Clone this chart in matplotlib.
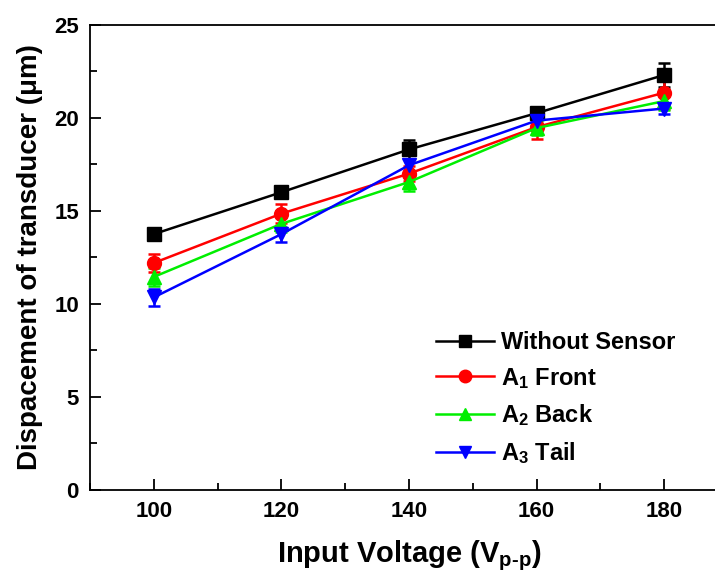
import matplotlib
matplotlib.use("Agg")
import matplotlib.pyplot as plt
from matplotlib.ticker import MultipleLocator
from matplotlib.lines import Line2D

plt.rcParams['font.family'] = ['Liberation Sans', 'DejaVu Sans']
plt.rcParams['font.weight'] = 'bold'
plt.rcParams['mathtext.fontset'] = 'custom'
plt.rcParams['mathtext.rm'] = 'Liberation Sans:bold'
plt.rcParams['mathtext.it'] = 'Liberation Sans:bold'
plt.rcParams['mathtext.bf'] = 'Liberation Sans:bold'

voltage = [100, 120, 140, 160, 180]
without_sensor = [13.75, 16.0, 18.3, 20.25, 22.3]
without_err = [0.3, 0.25, 0.5, 0.2, 0.65]
a1_front = [12.2, 14.85, 17.0, 19.5, 21.35]
a1_err = [0.5, 0.5, 0.4, 0.65, 0.85]
a2_back = [11.45, 14.3, 16.55, 19.45, 20.9]
a2_err = [0.5, 0.45, 0.5, 0.4, 0.5]
a3_tail = [10.35, 13.75, 17.45, 19.85, 20.5]
a3_err = [0.45, 0.4, 0.35, 0.4, 0.3]

labels = ['Without Sensor', r'A$_1$ Front', r'A$_2$ Back', r'A$_3$ Tail']
colors = ['black', '#ff0000', '#00ee00', '#0000ff']
markers = ['s', 'o', '^', 'v']

fig = plt.figure(figsize=(7.15, 5.77), dpi=100)
ax = fig.add_axes([0.126, 0.151, 0.892, 0.806])

series = [(without_sensor, without_err), (a1_front, a1_err), (a2_back, a2_err), (a3_tail, a3_err)]
handles = []
for (vals, errs), lab, c, m in zip(series, labels, colors, markers):
    ax.errorbar(voltage, vals, yerr=errs, color=c, marker=m, markersize=10,
                linewidth=1.8, elinewidth=1.8, capsize=4, capthick=1.8)
    handles.append(Line2D([], [], color=c, marker=m, markersize=9, linewidth=1.8, label=lab))

ax.set_xlim(90, 190)
ax.set_ylim(0, 25)
ax.xaxis.set_major_locator(MultipleLocator(20))
ax.xaxis.set_minor_locator(MultipleLocator(10))
ax.yaxis.set_major_locator(MultipleLocator(5))
ax.yaxis.set_minor_locator(MultipleLocator(2.5))
ax.tick_params(which='both', direction='in', top=False, right=False, width=1.3, labelsize=16)
ax.tick_params(which='major', length=8)
ax.tick_params(which='minor', length=5)
for lab in ax.get_xticklabels() + ax.get_yticklabels():
    lab.set_fontweight('bold')
ax.tick_params(axis='x', pad=8)
ax.tick_params(axis='y', pad=8)
for s in ax.spines.values():
    s.set_linewidth(1.3)

ax.set_xlabel(r'Input Voltage (V$_{\mathrm{p\text{-}p}}$)', fontsize=21, fontweight='bold', labelpad=12)
ax.set_ylabel('Dispacement of transducer (μm)', fontsize=20, fontweight='bold', labelpad=8)

leg = ax.legend(handles=handles, loc='upper left', bbox_to_anchor=(0.542, 0.342), frameon=False,
                fontsize=17, handlelength=2.45, labelspacing=0.5, handletextpad=0.3,
                borderpad=0, borderaxespad=0)
for t in leg.get_texts():
    t.set_fontweight('bold')

fig.savefig('out.png', dpi=100)
